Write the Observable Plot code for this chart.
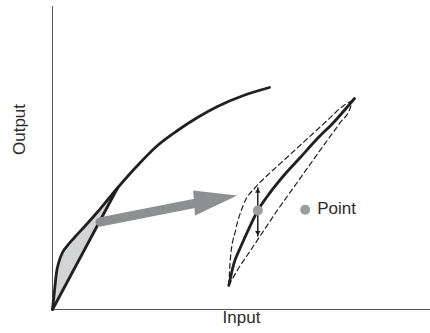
<!DOCTYPE html>
<html>
<head>
<meta charset="utf-8">
<script src="https://cdn.jsdelivr.net/npm/d3@7"></script>
<script src="https://cdn.jsdelivr.net/npm/@observablehq/plot@0.6"></script>
<style>
  html, body { margin: 0; padding: 0; background: #fff; }
  #chart svg { display: block; }
</style>
</head>
<body>
<div id="chart"></div>
<script>
// Main (large-scale) response curve
const curveX = [0, 0.53, 1.06, 1.72, 2.65, 3.97, 5.82, 8.73, 11.90, 14.55, 17.20, 22.49, 27.78, 33.07, 38.36, 43.65, 50.53, 57.41];
const curveY = [0, 6.27, 12.21, 15.84, 18.81, 21.12, 23.76, 27.72, 32.18, 36.14, 40.10, 47.52, 54.13, 59.08, 63.37, 67.00, 70.63, 73.27];
// Shaded lens: curve segment up to the chord end (closed by the chord)
const lensCount = 11;
// Straight chord
const chordX = [0, 17.20];
const chordY = [0, 40.10];
// Big gray arrow (shaft + head)
const shaftX = [12.57, 37.46];
const shaftY = [28.88, 34.98];
const headX = [37.22, 48.86, 37.70];
const headY = [39.27, 37.62, 31.02];
// Zoomed-in solid curve
const zoomX = [46.64, 47.96, 49.74, 51.93, 54.31, 56.80, 61.19, 65.61, 70.03, 74.42, 79.89];
const zoomY = [7.92, 15.08, 20.56, 26.63, 32.67, 37.29, 44.22, 50.26, 56.34, 61.82, 69.64];
// Dashed envelope curves
const upperX = [46.64, 47.09, 48.41, 50.61, 53.70, 56.80, 62.09, 67.38, 72.67, 77.06, 79.37];
const upperY = [7.92, 17.26, 26.07, 34.88, 40.36, 44.22, 50.26, 56.34, 62.38, 67.33, 68.98];
const lowerX = [46.64, 48.86, 52.38, 55.90, 59.44, 63.84, 68.25, 72.67, 76.19, 78.84, 79.37];
const lowerY = [7.92, 12.87, 19.47, 26.07, 32.67, 40.36, 48.09, 55.78, 61.82, 66.77, 68.98];
// Double-headed range arrow
const rangeX = [54.31, 54.31];
const rangeY = [40.36, 24.09];
const rangeHeadY = [39.04, 25.41];
// Points
const pointX = [54.31, 66.85];
const pointY = [32.67, 32.90];
const pointLabels = ["", "Point"];
// Axis labels
const axisLabels = ["Input", "Output"];

const zip = (xs, ys) => xs.map((x, i) => ({x, y: ys[i]}));
const ink = "#231f20";

const curve = zip(curveX, curveY);
const lens = curve.slice(0, lensCount);
const chord = zip(chordX, chordY);
const head = zip(headX, headY);
const zoom = zip(zoomX, zoomY);
const upper = zip(upperX, upperY);
const lower = zip(lowerX, lowerY);
const points = pointX.map((x, i) => ({x, y: pointY[i], label: pointLabels[i]}));

const chart = Plot.plot({
  width: 430,
  height: 333,
  marginLeft: 52,
  marginRight: 0,
  marginTop: 6,
  marginBottom: 24,
  x: {domain: [0, 100], axis: null},
  y: {domain: [0, 100], axis: null},
  style: {fontFamily: "'Liberation Sans', Arial, sans-serif", fontSize: "17px", color: "#2b2b2b", background: "#fff"},
  marks: [
    Plot.ruleX([0], {stroke: "#555", strokeWidth: 1}),
    Plot.ruleY([0], {stroke: "#555", strokeWidth: 1}),
    Plot.line(lens, {x: "x", y: "y", curve: "monotone-x", fill: "#d3d4d6", stroke: "none"}),
    Plot.line(chord, {x: "x", y: "y", stroke: ink, strokeWidth: 2.8}),
    Plot.line(curve, {x: "x", y: "y", curve: "monotone-x", stroke: ink, strokeWidth: 2.8}),
    Plot.link([0], {x1: () => shaftX[0], y1: () => shaftY[0], x2: () => shaftX[1], y2: () => shaftY[1], stroke: "#8e8f91", strokeWidth: 9, strokeLinecap: "round"}),
    Plot.line(head, {x: "x", y: "y", fill: "#8e8f91", stroke: "none"}),
    Plot.line(upper, {x: "x", y: "y", curve: "monotone-x", stroke: ink, strokeWidth: 1.2, strokeDasharray: "5,3.5"}),
    Plot.line(lower, {x: "x", y: "y", curve: "monotone-x", stroke: ink, strokeWidth: 1.2, strokeDasharray: "5,3.5"}),
    Plot.line(zoom, {x: "x", y: "y", curve: "monotone-x", stroke: ink, strokeWidth: 2.8}),
    Plot.link([0], {x1: () => rangeX[0], y1: () => rangeY[0], x2: () => rangeX[1], y2: () => rangeY[1], stroke: ink, strokeWidth: 1.5, strokeLinecap: "butt"}),
    Plot.dot([0], {x: () => rangeX[0], y: () => rangeHeadY[0], symbol: "triangle2", r: 2.6, fill: ink, stroke: "none"}),
    Plot.dot([0], {x: () => rangeX[1], y: () => rangeHeadY[1], symbol: "triangle2", r: 2.6, fill: ink, stroke: "none", rotate: 180}),
    Plot.dot(points, {x: "x", y: "y", r: 5, fill: "#9c9d9f", stroke: "none"}),
    Plot.text(points.filter(d => d.label), {x: "x", y: "y", text: "label", textAnchor: "start", dx: 12, dy: -1, fill: "#2b2b2b"}),
    Plot.text([axisLabels[0]], {frameAnchor: "bottom", dy: 13, fill: "#2b2b2b"}),
    Plot.text([axisLabels[1]], {frameAnchor: "left", dx: -33, dy: -3, rotate: -90, fill: "#2b2b2b"})
  ]
});
document.getElementById("chart").appendChild(chart);
</script>
</body>
</html>
